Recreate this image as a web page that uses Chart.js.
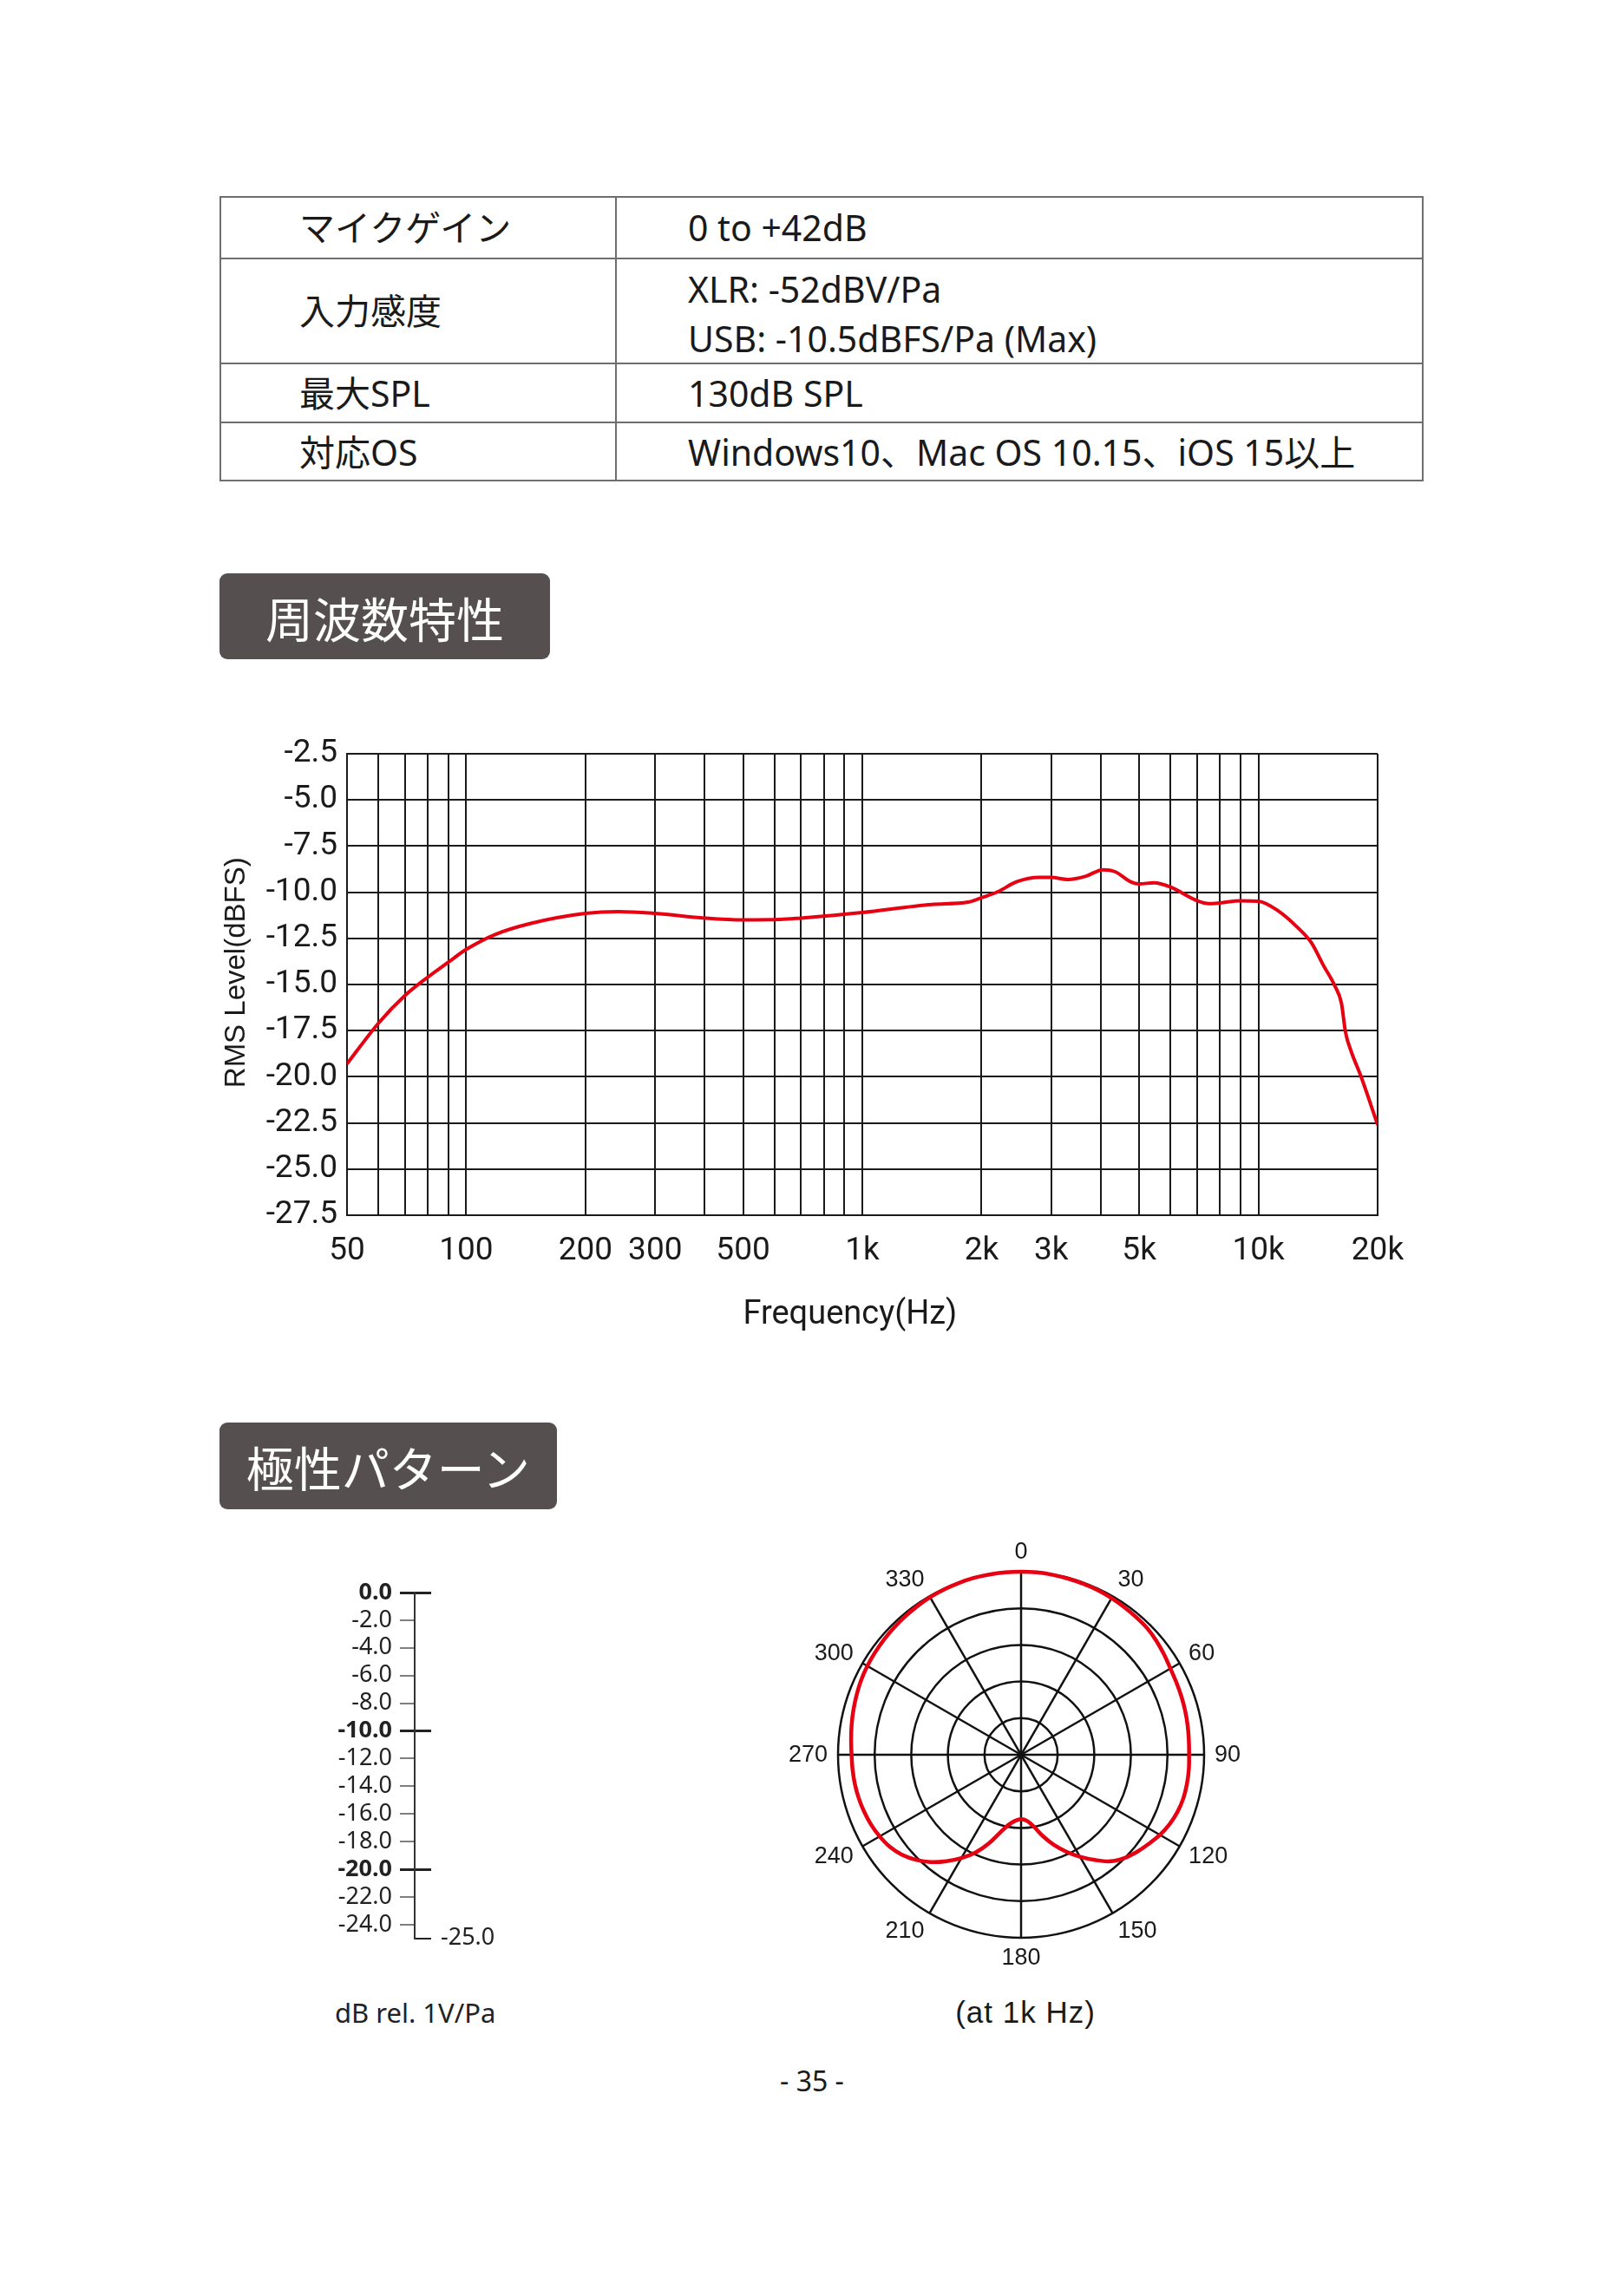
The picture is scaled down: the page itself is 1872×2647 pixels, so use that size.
<!DOCTYPE html>
<html><head><meta charset="utf-8">
<script src="https://cdn.jsdelivr.net/npm/chart.js@4/dist/chart.umd.min.js"></script>
<style>
html,body{margin:0;padding:0;background:#fff;}
body{width:1872px;height:2647px;position:relative;overflow:hidden;font-family:"Noto Sans","Noto Sans CJK JP",sans-serif;color:#1a1a1a;}
.a{position:absolute;}
.hl{position:absolute;height:2px;background:#6e6e6e;}
.vl{position:absolute;width:2px;background:#6e6e6e;}
.cell{position:absolute;display:flex;flex-direction:column;justify-content:center;font-size:41px;line-height:57px;white-space:nowrap;}
.hdr{position:absolute;background:#55504f;border-radius:9px;color:#fff;font-family:"Noto Sans CJK JP",sans-serif;font-size:55px;display:flex;align-items:center;justify-content:center;}
canvas{position:absolute;}
</style>
</head><body>

<!-- spec table -->
<div class="a" style="left:253px;top:226px;width:1388px;height:329px;border:2px solid #6e6e6e;box-sizing:border-box;"></div>
<div class="hl" style="left:253px;top:297px;width:1388px;"></div>
<div class="hl" style="left:253px;top:418px;width:1388px;"></div>
<div class="hl" style="left:253px;top:486px;width:1388px;"></div>
<div class="vl" style="left:709px;top:226px;height:329px;"></div>

<div class="cell" style="left:345px;top:226px;height:72px;">マイクゲイン</div>
<div class="cell" style="left:793px;top:226px;height:72px;">0 to +42dB</div>
<div class="cell" style="left:345px;top:298px;height:121px;">入力感度</div>
<div class="cell" style="left:793px;top:301px;height:121px;"><div>XLR: -52dBV/Pa</div><div>USB: -10.5dBFS/Pa (Max)</div></div>
<div class="cell" style="left:345px;top:419px;height:68px;">最大SPL</div>
<div class="cell" style="left:793px;top:419px;height:68px;">130dB SPL</div>
<div class="cell" style="left:345px;top:487px;height:68px;">対応OS</div>
<div class="cell" style="left:793px;top:487px;height:68px;">Windows10、Mac OS 10.15、iOS 15以上</div>

<div class="hdr" style="left:253px;top:661px;width:381px;height:99px;">周波数特性</div>
<div class="hdr" style="left:253px;top:1640px;width:389px;height:100px;">極性パターン</div>

<canvas id="freq" width="1460" height="760" style="left:200px;top:820px;"></canvas>
<canvas id="legend" width="210" height="460" style="left:370px;top:1800px;"></canvas>
<canvas id="polar" width="542" height="542" style="left:906px;top:1752px;"></canvas>

<div class="a" style="left:386px;top:2299px;font-family:'Noto Sans',sans-serif;font-size:31px;line-height:42px;color:#222;">dB rel. 1V/Pa</div>
<div class="a" style="left:1062px;top:2299px;width:240px;text-align:center;font-family:'Liberation Sans',Arial,sans-serif;font-size:35px;line-height:42px;letter-spacing:1px;color:#1a1a1a;">(at 1k Hz)</div>
<div class="a" style="left:836px;top:2379px;width:200px;text-align:center;font-size:32px;line-height:40px;color:#1a1a1a;">- 35 -</div>

<script>
// ---------- Frequency response data ----------
const freqHz = [50, 60, 70, 80, 90, 100, 118, 145, 200, 242, 300, 400, 500, 620, 700, 1000, 1500, 1850, 2000, 2200, 2450, 2800, 3000, 3300, 3670, 4050, 4350, 4760, 5000, 5450, 6000, 7000, 7500, 8000, 9000, 10000, 11200, 12600, 13600, 14600, 15600, 16200, 16600, 17200, 18100, 20000];
const levelDb = [-19.3, -17.1, -15.6, -14.6, -13.8, -13.1, -12.3, -11.7, -11.15, -11.05, -11.15, -11.4, -11.5, -11.48, -11.4, -11.1, -10.66, -10.54, -10.3, -9.97, -9.44, -9.2, -9.2, -9.31, -9.13, -8.78, -8.89, -9.44, -9.55, -9.49, -9.72, -10.46, -10.62, -10.58, -10.46, -10.49, -11.0, -11.94, -12.73, -13.97, -15.08, -16.0, -17.6, -18.7, -19.9, -22.6];
const xGridHz = [50, 60, 70, 80, 90, 100, 200, 300, 400, 500, 600, 700, 800, 900, 1000, 2000, 3000, 4000, 5000, 6000, 7000, 8000, 9000, 10000, 20000];
const xLabelHz = [50, 100, 200, 300, 500, 1000, 2000, 3000, 5000, 10000, 20000];
const xLabelText = ['50', '100', '200', '300', '500', '1k', '2k', '3k', '5k', '10k', '20k'];
const yTicksDb = [-2.5, -5, -7.5, -10, -12.5, -15, -17.5, -20, -22.5, -25, -27.5];

// ---------- Polar pattern data (at 1kHz) ----------
const polarAngles = [0,5,10,15,20,25,30,35,40,45,50,55,60,65,70,75,80,85,90,95,100,105,110,115,120,125,130,135,140,145,150,155,160,165,170,175,180,185,190,195,200,205,210,215,220,225,230,235,240,245,250,255,260,265,270,275,280,285,290,295,300,305,310,315,320,325,330,335,340,345,350,355];
const polarDb = [0, 0, -0.05, -0.1, -0.15, -0.2, -0.3, -0.4, -0.5, -0.6, -0.85, -1.15, -1.45, -1.6, -1.7, -1.8, -1.9, -2.0, -2.05, -2.0, -2.0, -2.05, -2.25, -2.6, -3.1, -3.75, -4.35, -5.05, -6.0, -7.45, -8.9, -10.4, -11.9, -13.5, -15.05, -15.95, -16.2, -15.95, -15.3, -14.0, -12.1, -10.25, -8.7, -7.25, -5.85, -4.7, -3.75, -3.1, -2.7, -2.4, -2.2, -2.05, -1.95, -1.9, -1.85, -1.7, -1.5, -1.3, -1.1, -0.9, -0.75, -0.65, -0.55, -0.45, -0.35, -0.25, -0.15, -0.1, -0.05, 0, 0, 0];
const polarLabelStep = 30;

// ---------- dB scale legend ----------
const legendTicks = [0, -2, -4, -6, -8, -10, -12, -14, -16, -18, -20, -22, -24, -25];
const legendMajor = [0, -10, -20];
const legendEnd = -25;

const RED = '#e60012';
const INK = '#1a1a1a';

// Frequency response chart
new Chart(document.getElementById('freq'), {
  type: 'line',
  data: { datasets: [{
    data: freqHz.map((f, i) => ({ x: f, y: levelDb[i] })),
    borderColor: RED, borderWidth: 4, pointRadius: 0, fill: false,
    cubicInterpolationMode: 'monotone'
  }]},
  options: {
    responsive: false, animation: false, devicePixelRatio: 1,
    layout: { padding: { left: 0, top: 49, right: 72, bottom: 0 } },
    plugins: { legend: { display: false }, tooltip: { enabled: false } },
    scales: {
      x: {
        type: 'logarithmic', min: 50, max: 20000,
        afterBuildTicks: s => { s.ticks = xGridHz.map(v => ({ value: v })); },
        afterFit: s => { s.height = 179; },
        ticks: { autoSkip: false, maxRotation: 0, minRotation: 0, padding: 20, color: INK,
          font: { family: 'Roboto', size: 37 },
          callback: v => { const i = xLabelHz.indexOf(v); return i >= 0 ? xLabelText[i] : ''; } },
        grid: { color: INK, lineWidth: 2, drawTicks: false },
        border: { display: true, color: INK, width: 2 },
        title: { display: true, text: 'Frequency(Hz)   ', color: INK,
          font: { family: 'Roboto', size: 38 }, padding: { top: 0, bottom: 41 } }
      },
      y: {
        min: -27.5, max: -2.5,
        afterBuildTicks: s => { s.ticks = yTicksDb.map(v => ({ value: v })); },
        afterFit: s => { s.width = 200; },
        ticks: { autoSkip: false, padding: 11, color: INK, font: { family: 'Roboto', size: 37 },
          callback: v => Number(v).toFixed(1) },
        grid: { color: INK, lineWidth: 2, drawTicks: false },
        border: { display: true, color: INK, width: 2 },
        title: { display: true, text: '   RMS Level(dBFS)', color: INK,
          font: { family: 'Liberation Sans', size: 33 }, padding: { top: 53, bottom: 0 } }
      }
    }
  }
});

// dB legend scale
new Chart(document.getElementById('legend'), {
  type: 'line',
  data: { datasets: [] },
  options: {
    responsive: false, animation: false, devicePixelRatio: 1,
    layout: { padding: { left: 0, right: 0, top: 36, bottom: 24 } },
    plugins: { legend: { display: false }, tooltip: { enabled: false } },
    scales: {
      x: { type: 'linear', display: false },
      y: {
        position: 'left', min: -25, max: 0,
        afterBuildTicks: s => { s.ticks = legendTicks.map(v => ({ value: v })); },
        afterFit: s => { s.width = 108; },
        ticks: { autoSkip: false, padding: 9, color: '#222',
          font: ctx => ({ family: 'Noto Sans', size: 27, weight: (ctx.tick && legendMajor.includes(ctx.tick.value)) ? 'bold' : 'normal' }),
          callback: v => v === legendEnd ? '' : Number(v).toFixed(1) },
        grid: {
          drawTicks: true, tickLength: 17,
          color: ctx => (ctx.tick && (legendMajor.includes(ctx.tick.value) || ctx.tick.value === legendEnd)) ? '#222' : 'rgba(0,0,0,0)',
          lineWidth: ctx => (ctx.tick && legendMajor.includes(ctx.tick.value)) ? 3 : 2,
          tickColor: ctx => (ctx.tick && ctx.tick.value === legendEnd) ? 'rgba(0,0,0,0)' : (ctx.tick && legendMajor.includes(ctx.tick.value) ? '#222' : '#555'),
          tickWidth: ctx => (ctx.tick && legendMajor.includes(ctx.tick.value)) ? 3 : 1.5
        },
        border: { display: true, color: '#333', width: 2 }
      },
      y2: {
        position: 'right', min: -25, max: 0,
        afterBuildTicks: s => { s.ticks = [{ value: legendEnd }]; },
        afterFit: s => { s.width = 83; },
        ticks: { autoSkip: false, padding: 3, color: '#222', font: { family: 'Noto Sans', size: 27 },
          callback: v => Number(v).toFixed(1) },
        grid: { display: false },
        border: { display: false }
      }
    }
  }
});

// Polar angle labels drawn through the radial scale
const angleLabelPlugin = {
  id: 'angleLabels',
  afterDraw(chart) {
    const s = chart.scales.r, ctx = chart.ctx;
    ctx.save();
    ctx.font = '27px "Liberation Sans", Arial, sans-serif';
    ctx.fillStyle = INK;
    ctx.textBaseline = 'middle';
    polarAngles.forEach((a, i) => {
      if (a % polarLabelStep !== 0) return;
      const t = String(a);
      const rad = a * Math.PI / 180;
      const sn = Math.sin(rad), cs = Math.cos(rad);
      const p = s.getPointPosition(i, s.drawingArea + 12);
      ctx.textAlign = sn > 0.1 ? 'left' : (sn < -0.1 ? 'right' : 'center');
      ctx.fillText(t, p.x, p.y - 11 * cs + 1);
    });
    ctx.restore();
  }
};

new Chart(document.getElementById('polar'), {
  type: 'radar',
  data: { labels: polarAngles.map(String), datasets: [{
    data: polarDb, borderColor: RED, borderWidth: 4.5, pointRadius: 0,
    tension: 0.35, fill: false, backgroundColor: 'rgba(0,0,0,0)'
  }]},
  options: {
    responsive: false, animation: false, devicePixelRatio: 1,
    layout: { padding: 60 },
    plugins: { legend: { display: false }, tooltip: { enabled: false } },
    scales: {
      r: {
        min: -25, max: 0,
        ticks: { display: false, stepSize: 5 },
        grid: { circular: true, color: '#111', lineWidth: 2.5 },
        angleLines: { display: true, color: '#111',
          lineWidth: ctx => (polarAngles[ctx.index] % polarLabelStep === 0) ? 2.5 : 0 },
        pointLabels: { display: false }
      }
    }
  },
  plugins: [angleLabelPlugin]
});
</script>
</body></html>
